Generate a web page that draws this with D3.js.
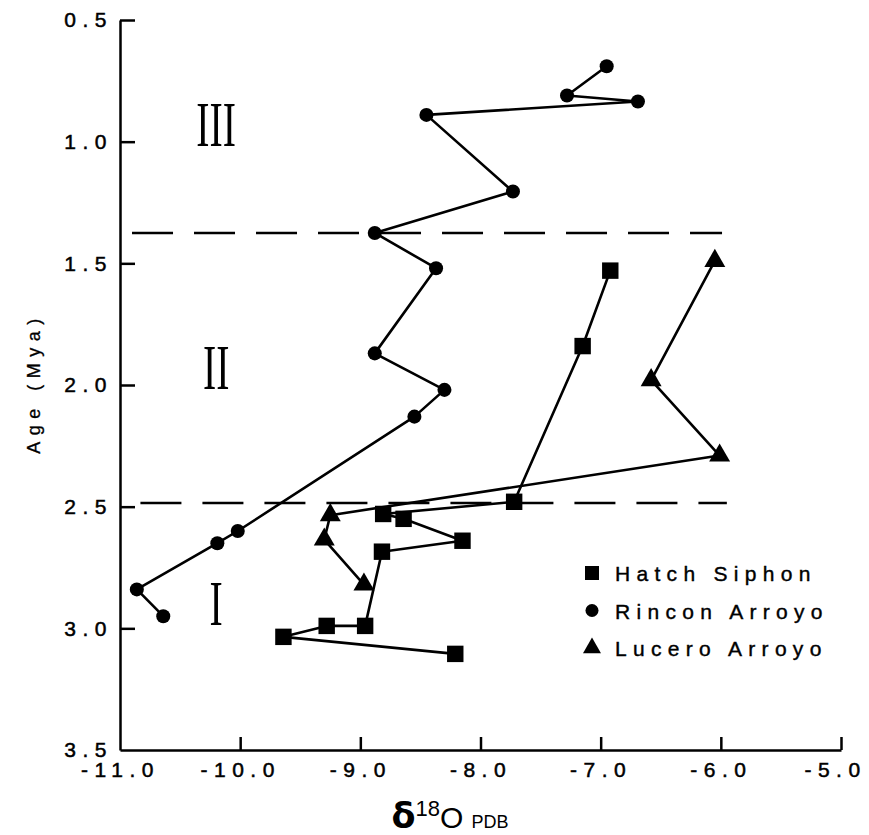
<!DOCTYPE html>
<html>
<head>
<meta charset="utf-8">
<script src="https://cdn.jsdelivr.net/npm/d3@7"></script>
<style>
  body { margin: 0; background: #fff; }
  svg { display: block; }
</style>
</head>
<body>
<svg id="chart" width="869" height="835"></svg>
<script>
// tick values
const xTicks = [-11, -10, -9, -8, -7, -6, -5];
const yTicks = [0.5, 1.0, 1.5, 2.0, 2.5, 3.0, 3.5];

// Hatch Siphon (squares), in drawing order
const hatchD18O = [-6.92, -7.15, -7.72, -8.81, -8.64, -8.15, -8.82, -8.96, -9.28, -9.64, -8.21];
const hatchAge  = [1.53, 1.84, 2.48, 2.53, 2.55, 2.64, 2.685, 2.99, 2.99, 3.035, 3.105];

// Rincon Arroyo (circles)
const rinconD18O = [-6.95, -7.28, -6.69, -8.45, -7.73, -8.88, -8.37, -8.88, -8.30, -8.55, -10.02, -10.19, -10.86, -10.64];
const rinconAge  = [0.69, 0.81, 0.835, 0.89, 1.205, 1.375, 1.52, 1.87, 2.02, 2.13, 2.60, 2.65, 2.84, 2.95];

// Lucero Arroyo (triangles)
const luceroD18O = [-6.05, -6.58, -6.01, -9.25, -9.30, -8.97];
const luceroAge  = [1.49, 1.98, 2.29, 2.535, 2.635, 2.82];

// zone boundaries and labels
const boundaries = [1.375, 2.485];
const boundaryStart = [-10.9, -10.83];
const boundaryEnd = [-5.99, -5.95];
const zoneNames = ["III", "II", "I"];
const zoneAge = [0.93, 1.93, 2.90];

const legendNames = ["Hatch Siphon", "Rincon Arroyo", "Lucero Arroyo"];

let svg = d3.select("#chart");
let padding = {left: 120, right: 28, top: 20, bottom: 85};
let width = 869, height = 835;

let x = d3.scaleLinear().domain([-11, -5]).range([padding.left, width - padding.right]);
let y = d3.scaleLinear().domain([0.5, 3.5]).range([padding.top, height - padding.bottom]);

let font = "'Liberation Sans', Arial, sans-serif";

// axes
let xAxis = d3.axisBottom(x).tickValues(xTicks).tickFormat(d3.format(".1f"))
    .tickSizeInner(-13).tickSizeOuter(0).tickPadding(12);
let yAxis = d3.axisLeft(y).tickValues(yTicks).tickFormat(d3.format(".1f"))
    .tickSizeInner(-15).tickSizeOuter(0).tickPadding(7);

let gX = svg.append("g").attr("transform", "translate(0," + y(3.5) + ")").call(xAxis);
let gY = svg.append("g").attr("transform", "translate(" + x(-11) + ",0)").call(yAxis);

[gX, gY].forEach(function(g) {
    g.select(".domain").attr("stroke", "#000").attr("stroke-width", 2.5);
    g.selectAll(".tick line").attr("stroke", "#000").attr("stroke-width", 2.5);
    g.selectAll(".tick text")
        .attr("fill", "#000")
        .attr("stroke", "#000")
        .attr("stroke-width", 0.5)
        .style("font-family", font)
        .style("font-size", "21px")
        .style("letter-spacing", "6.5px");
});
gX.selectAll(".tick text").text(function(d) { return d3.format(".1f")(d).replace("\u2212", "-"); });
// last label sits at the right edge of the page
gX.selectAll(".tick").filter(function(d) { return d == -5; }).select("text").attr("dx", -6);
// no tick at the corner
gX.selectAll(".tick").filter(function(d) { return d == -11; }).select("line").remove();
gY.selectAll(".tick").filter(function(d) { return d == 3.5; }).select("line").remove();

// axis titles
svg.append("text")
    .attr("transform", "translate(40,383) rotate(-90)")
    .attr("text-anchor", "middle")
    .attr("stroke", "#000")
    .attr("stroke-width", 0.3)
    .style("font-family", font)
    .style("font-size", "18px")
    .style("letter-spacing", "6.5px")
    .text("Age (Mya)");

let title = svg.append("text")
    .attr("x", 450).attr("y", 828)
    .attr("text-anchor", "middle")
    .style("font-family", font)
    .style("font-size", "30px");
title.append("tspan").text("\u03B4").style("font-family", "'DejaVu Sans', sans-serif").style("font-weight", "bold").style("font-size", "35px");
title.append("tspan").attr("dy", -12).style("font-size", "22px").text("18");
title.append("tspan").attr("dy", 12).text("O ");
title.append("tspan").style("font-size", "18px").text("PDB");

// dashed zone boundaries
svg.selectAll("line.boundary")
    .data(boundaries)
    .enter()
    .append("line")
    .attr("class", "boundary")
    .attr("x1", function(d, i) { return x(boundaryStart[i]); })
    .attr("x2", function(d, i) { return x(boundaryEnd[i]); })
    .attr("y1", function(d) { return y(d); })
    .attr("y2", function(d) { return y(d); })
    .attr("stroke", "#000")
    .attr("stroke-width", 2.5)
    .attr("stroke-dasharray", "41,21");

// roman numerals
svg.selectAll("text.zone")
    .data(zoneNames)
    .enter()
    .append("text")
    .attr("class", "zone")
    .attr("transform", function(d, i) { return "translate(" + x(-10.2) + "," + (y(zoneAge[i]) + 21) + ") scale(0.62,1)"; })
    .attr("text-anchor", "middle")
    .style("font-family", "'Liberation Serif', 'Times New Roman', serif")
    .style("font-size", "64px")
    .text(function(d) { return d; });

// series
function pairs(xs, ys) {
    return xs.map(function(v, i) { return [v, ys[i]]; });
}
let line = d3.line().x(function(d) { return x(d[0]); }).y(function(d) { return y(d[1]); });

let series = [
    {name: legendNames[0], pts: pairs(hatchD18O, hatchAge), sym: d3.symbolSquare, size: 270, key: 196},
    {name: legendNames[1], pts: pairs(rinconD18O, rinconAge), sym: d3.symbolCircle, size: 155, key: 133},
    {name: legendNames[2], pts: pairs(luceroD18O, luceroAge), sym: d3.symbolTriangle, size: 190, key: 140}
];

series.forEach(function(s) {
    svg.append("path")
        .datum(s.pts)
        .attr("d", line)
        .attr("fill", "none")
        .attr("stroke", "#000")
        .attr("stroke-width", 2.6)
        .attr("stroke-linejoin", "round");
});
series.forEach(function(s) {
    svg.selectAll(null)
        .data(s.pts)
        .enter()
        .append("path")
        .attr("d", d3.symbol().type(s.sym).size(s.size))
        .attr("transform", function(d) { return "translate(" + x(d[0]) + "," + y(d[1]) + ")"; })
        .attr("fill", "#000");
});

// legend
let legend = svg.append("g").attr("transform", "translate(592,573)");
series.forEach(function(s, i) {
    let row = legend.append("g").attr("transform", "translate(0," + (i * 37.5) + ")");
    row.append("path")
        .attr("d", d3.symbol().type(s.sym).size(s.key))
        .attr("fill", "#000");
    row.append("text")
        .attr("x", 23).attr("y", 8)
        .attr("stroke", "#000")
        .attr("stroke-width", 0.4)
        .style("font-family", font)
        .style("font-size", "21px")
        .style("letter-spacing", "6.3px")
        .text(s.name);
});
</script>
</body>
</html>
